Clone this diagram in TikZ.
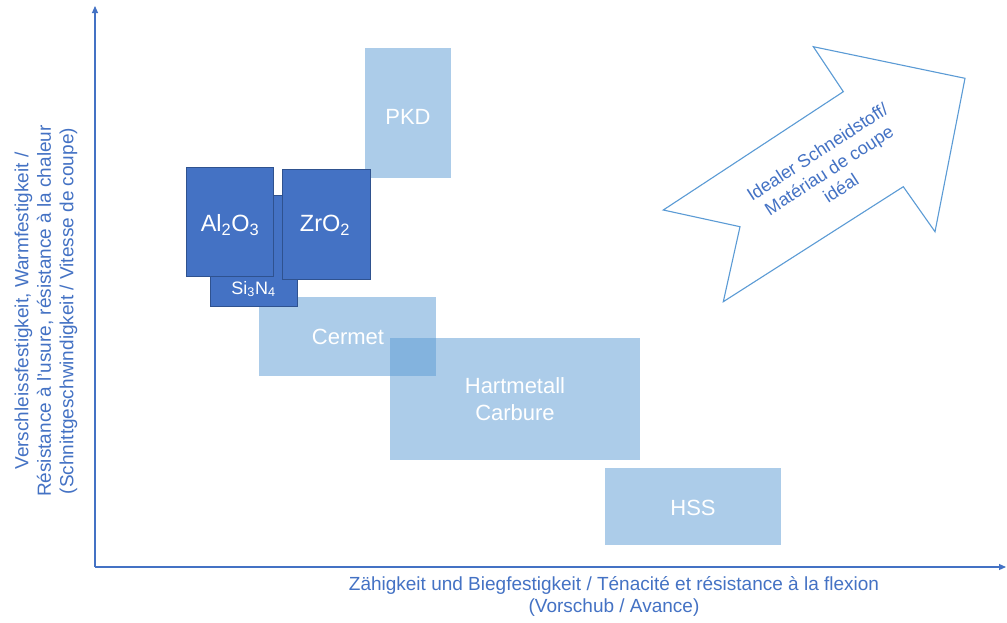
\documentclass[tikz,border=0pt]{standalone}
\usepackage{fontspec}
\setmainfont{Liberation Sans}
\usetikzlibrary{arrows.meta}
\definecolor{axisblue}{HTML}{4472C4}
\definecolor{lightblue}{HTML}{5B9BD5}
\definecolor{darkfill}{HTML}{4472C4}
\definecolor{darkedge}{HTML}{2F528F}
\tikzset{
  lbox/.style={fill=lightblue, fill opacity=0.5, text opacity=1, text=white, draw=none,
    inner sep=0pt, font=\fontsize{22}{26}\selectfont, align=center},
  dbox/.style={fill=darkfill, draw=darkedge, line width=0.8pt, text=white,
    inner sep=0pt, font=\fontsize{22}{26}\selectfont},
  axisline/.style={draw=axisblue, line width=1.1pt, -{Triangle[length=7pt,width=6pt]}},
  axislabel/.style={text=axisblue, align=center, font=\fontsize{19}{22.5}\selectfont},
  bigarrow/.style={draw=lightblue, line width=1.1pt, fill=white, line join=miter},
  arrowtext/.style={text=axisblue, align=center, font=\fontsize{18}{21.5}\selectfont}
}
\begin{document}
\begin{tikzpicture}[x=1pt, y=-1pt]
\path[use as bounding box, fill=white] (0,0) rectangle (1007,622);

% axes
\coordinate (origin) at (95,567);
\coordinate (ytip) at (95,6);
\coordinate (xtip) at (1006,567);
\draw[axisline] (origin) -- (ytip);
\draw[axisline] (origin) -- (xtip);

% light boxes
\node[lbox, minimum width=86pt, minimum height=130pt] (pkd) at (408,113) {};
\node[lbox, minimum width=177pt, minimum height=79pt] (cermet) at (347.5,336.5) {};
\node[lbox, minimum width=250pt, minimum height=122pt] (hm) at (515,399) {};
\node[lbox, minimum width=176pt, minimum height=77pt] (hss) at (693,506.5) {};

\node[text=white, font=\fontsize{22}{26}\selectfont] (pkdt) at (408,117) {PKD};
\node[text=white, font=\fontsize{22}{26}\selectfont] (cermett) at (348,337) {Cermet};
\node[text=white, align=center, font=\fontsize{22}{27}\selectfont] (hmt) at (515,399.5) {Hartmetall\\Carbure};
\node[text=white, font=\fontsize{22}{26}\selectfont] (hsst) at (693,508) {HSS};

% dark boxes
\node[dbox, minimum width=87pt, minimum height=111pt] (si) at (253.5,251) {};
\node[dbox, minimum width=87pt, minimum height=109pt] (al) at (230,221.5) {};
\node[dbox, minimum width=88pt, minimum height=110pt] (zr) at (326,224) {};
\node[text=white, font=\fontsize{23.5}{27}\selectfont] (alt) at (230,225) {Al\textsubscript{2}O\textsubscript{3}};
\node[text=white, font=\fontsize{23.5}{27}\selectfont] (zrt) at (325,225) {ZrO\textsubscript{2}};
\node[text=white, font=\fontsize{18}{21}\selectfont] (sit) at (253.5,289) {Si\textsubscript{3}N\textsubscript{4}};

% big notched arrow
\coordinate (a1) at (663.3,210);
\coordinate (a2) at (843.3,91.7);
\coordinate (a3) at (813.3,46.7);
\coordinate (a4) at (965,78.3);
\coordinate (a5) at (935,231.7);
\coordinate (a6) at (903.3,186.7);
\coordinate (a7) at (723.3,301.7);
\coordinate (a8) at (740,226.7);
\draw[bigarrow] (a1) -- (a2) -- (a3) -- (a4) -- (a5) -- (a6) -- (a7) -- (a8) -- cycle;
\node[arrowtext, rotate=33] (ideal) at (829,170) {Idealer Schneidstoff/\\Matériau de coupe\\idéal};

% axis labels
\node[axislabel, rotate=90] (ylab) at (46,311) {Verschleissfestigkeit, Warmfestigkeit /\\Résistance à l'usure, résistance à la chaleur\\(Schnittgeschwindigkeit / Vitesse de coupe)};
\node[axislabel] (xlab) at (614,596.5) {Zähigkeit und Biegfestigkeit / Ténacité et résistance à la flexion\\(Vorschub / Avance)};
\end{tikzpicture}
\end{document}
